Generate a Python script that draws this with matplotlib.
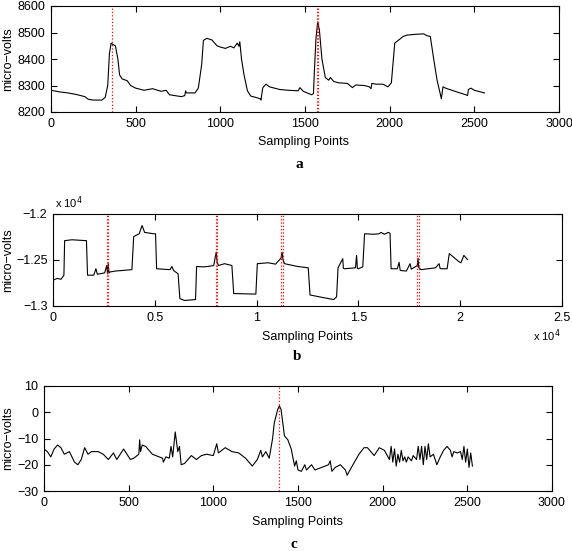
import matplotlib.pyplot as plt
from matplotlib.ticker import FuncFormatter

# panel a: signal (sampling point, micro-volts)
a_x = [0, 50, 100, 150, 200, 220, 250, 300, 320, 335, 345, 355, 365, 380, 395, 405, 420, 450,
       470, 500, 550, 600, 650, 680, 700, 730, 770, 790, 795, 800, 850, 870, 890, 900, 920,
       950, 980, 1000, 1030, 1060, 1080, 1100, 1110, 1115, 1125, 1140, 1160, 1180, 1210, 1235,
       1240, 1250, 1255, 1270, 1290, 1350, 1400, 1460, 1470, 1490, 1520, 1540, 1550, 1555,
       1565, 1575, 1585, 1600, 1620, 1640, 1650, 1670, 1700, 1750, 1780, 1800, 1850, 1880,
       1890, 1895, 1920, 1960, 1990, 2010, 2030, 2050, 2080, 2100, 2150, 2200, 2220, 2240,
       2260, 2280, 2300, 2305, 2315, 2330, 2400, 2450, 2460, 2465, 2480, 2500, 2560]
a_y = [8282, 8276, 8272, 8266, 8258, 8248, 8245, 8245, 8255, 8300, 8420, 8460, 8455, 8450,
       8400, 8340, 8325, 8318, 8300, 8290, 8282, 8288, 8278, 8282, 8265, 8262, 8258, 8262,
       8280, 8272, 8272, 8290, 8380, 8470, 8478, 8472, 8450, 8445, 8440, 8448, 8442, 8460,
       8448, 8465, 8400, 8340, 8280, 8260, 8255, 8250, 8245, 8290, 8295, 8305, 8295, 8285,
       8282, 8280, 8292, 8278, 8270, 8265, 8270, 8350, 8480, 8540, 8510, 8400, 8330, 8320,
       8330, 8315, 8310, 8308, 8292, 8302, 8300, 8295, 8288, 8308, 8305, 8305, 8295, 8310,
       8460, 8470, 8485, 8490, 8493, 8495, 8488, 8485, 8400, 8320, 8265, 8250, 8295, 8290,
       8275, 8265, 8262, 8285, 8290, 8282, 8272]
a_marks = [360, 1572, 1578]

# panel b
b_x = [0, 214, 393, 536, 571, 929, 1643, 1696, 2000, 2107, 2179, 2536, 2640, 2680, 2714,
       2750, 2800, 3071, 3875, 3964, 4232, 4375, 4500, 4946, 5036, 5089, 5750, 5839, 5929,
       6143, 6232, 6464, 7000, 7054, 7357, 7625, 7893, 7960, 8018, 8060, 8125, 8429, 8786,
       8875, 9857, 9964, 10036, 10571, 10929, 11200, 11250, 11300, 11375, 12000, 12536,
       12625, 13071, 13786, 13929, 14000, 14232, 14260, 14321, 14857, 14911, 14950, 15000,
       15214, 15304, 15750, 16018, 16107, 16286, 16464, 16554, 16607, 16911, 17000, 17050,
       17089, 17357, 17536, 17600, 17893, 17930, 17960, 18071, 18429, 18786, 18964, 19010,
       19054, 19357, 19464, 19679, 19946, 20036, 20179, 20357]
b_y = [-12720, -12700, -12710, -12665, -12290, -12280, -12290, -12665, -12665, -12595,
       -12655, -12640, -12560, -12650, -12540, -12640, -12630, -12620, -12605, -12245,
       -12215, -12125, -12200, -12215, -12215, -12595, -12605, -12570, -12615, -12650,
       -12920, -12940, -12930, -12570, -12575, -12570, -12560, -12480, -12415, -12520,
       -12560, -12540, -12560, -12865, -12870, -12870, -12540, -12530, -12545, -12480,
       -12415, -12500, -12540, -12570, -12585, -12880, -12900, -12930, -12900, -12585,
       -12485, -12590, -12595, -12585, -12450, -12590, -12595, -12575, -12215, -12220,
       -12215, -12200, -12220, -12200, -12210, -12595, -12595, -12525, -12610, -12615,
       -12620, -12540, -12600, -12560, -12480, -12580, -12605, -12595, -12585, -12540,
       -12590, -12595, -12595, -12430, -12470, -12520, -12530, -12450, -12495]
b_marks = [2640, 2714, 7982, 8071, 11214, 11286, 17893, 17982]

# panel c
c_x = [0, 20, 40, 60, 80, 100, 120, 150, 180, 200, 220, 240, 260, 280, 320, 350, 380, 410,
       430, 450, 470, 490, 510, 530, 560, 565, 570, 580, 600, 640, 660, 700, 705, 720, 740,
       750, 760, 775, 790, 800, 810, 830, 870, 900, 930, 960, 1000, 1020, 1030, 1070, 1110,
       1150, 1190, 1230, 1260, 1280, 1290, 1310, 1330, 1350, 1360, 1380, 1390, 1400, 1410,
       1420, 1440, 1460, 1480, 1490, 1500, 1520, 1540, 1550, 1580, 1600, 1640, 1680, 1690,
       1700, 1720, 1750, 1780, 1790, 1820, 1860, 1890, 1910, 1950, 1980, 2010, 2040, 2050,
       2060, 2070, 2080, 2090, 2100, 2110, 2120, 2130, 2140, 2150, 2170, 2180, 2200, 2210,
       2220, 2230, 2240, 2250, 2260, 2270, 2280, 2300, 2320, 2340, 2360, 2380, 2400, 2410,
       2420, 2440, 2460, 2470, 2480, 2490, 2500, 2510, 2520, 2530]
c_y = [-14, -15, -17, -14, -12.5, -13.5, -16, -15, -19, -20, -18, -13.5, -16, -15, -15, -16,
       -18, -15.5, -18, -16, -14, -16, -18, -17.5, -16, -10.5, -15, -12.5, -13, -16, -16.5,
       -17.5, -19, -17, -17.5, -13, -17, -7.5, -15, -13, -20, -19.5, -16.5, -18, -16.5, -16,
       -16.5, -12, -15.5, -13.5, -15, -15.5, -17.5, -20.5, -18, -14.5, -17, -15, -17.5, -10,
       -4, 1, 2.5, 1, -4, -9, -10.5, -14, -20.5, -18.5, -22, -22.5, -20, -22, -20, -22, -21,
       -20, -18.5, -22.5, -21, -20, -22, -24, -20.5, -16, -13.5, -13.5, -16.5, -13.5, -14.5,
       -18, -13, -19, -14, -20.5, -16, -19, -14.5, -18.5, -17, -19, -17, -18.5, -16.5, -18,
       -13, -18, -13, -20, -13, -18, -12, -17, -16, -20, -17, -14.5, -13, -14.5, -17, -15,
       -15.5, -15, -18, -13, -19, -14, -21, -15.5, -20.5]
c_marks = [1385]

W, H = 572, 551
fig = plt.figure(figsize=(W / 100, H / 100), dpi=100)
plt.rcParams['font.family'] = ['Liberation Sans', 'DejaVu Sans']


def style(ax):
    ax.tick_params(direction='in', top=True, right=True, labelsize=9, length=4, width=0.8, pad=4)
    for s in ax.spines.values():
        s.set_linewidth(0.8)


def px(l, t, r, b):
    return [l / W, 1 - b / H, (r - l) / W, (b - t) / H]


def labels(xl, yl, ylab, lx, ly, letter):
    fig.text(xl / W, 1 - yl / H, 'Sampling Points', ha='center', va='center', fontsize=9)
    fig.text(8 / W, 1 - ylab / H, 'micro\u2212volts', rotation=90, ha='center', va='center',
             fontsize=9)
    fig.text(lx / W, 1 - ly / H, letter, ha='center', va='center', fontsize=11,
             family='Liberation Serif', weight='bold')


# a
ax = fig.add_axes(px(51, 6, 559, 112))
ax.plot(a_x, a_y, color='black', lw=0.8)
for m in a_marks:
    ax.axvline(m, color='red', ls=':', lw=0.9)
ax.set_xlim(0, 3000)
ax.set_ylim(8200, 8600)
ax.set_yticks([8200, 8300, 8400, 8500, 8600])
style(ax)
labels(304, 142, 59, 299, 164, 'a')

# b
ax = fig.add_axes(px(53, 214, 562, 306))
ax.plot(b_x, b_y, color='black', lw=0.8)
for m in b_marks:
    ax.axvline(m, color='red', ls=':', lw=0.9)
ax.set_xlim(0, 25000)
ax.set_ylim(-13000, -12000)
ax.set_yticks([-13000, -12500, -12000])
ax.set_xticks([0, 5000, 10000, 15000, 20000, 25000])
ax.yaxis.set_major_formatter(FuncFormatter(lambda v, p: f'{v / 1e4:g}'.replace('-', '\u2212')))
ax.xaxis.set_major_formatter(FuncFormatter(lambda v, p: f'{v / 1e4:g}'))
style(ax)
fig.text(55 / W, 1 - 208 / H, 'x 10$^{4}$', ha='left', va='baseline', fontsize=8)
fig.text(533 / W, 1 - 341 / H, 'x 10$^{4}$', ha='left', va='baseline', fontsize=8)
labels(308, 337, 260, 297, 356, 'b')

# c
ax = fig.add_axes(px(44, 386, 552, 491))
ax.plot(c_x, c_y, color='black', lw=0.8)
for m in c_marks:
    ax.axvline(m, color='red', ls=':', lw=0.9)
ax.set_xlim(0, 3000)
ax.set_ylim(-30, 10)
ax.set_yticks([-30, -20, -10, 0, 10])
ax.yaxis.set_major_formatter(FuncFormatter(lambda v, p: f'{v:g}'.replace('-', '\u2212')))
style(ax)
labels(297, 522, 438, 294, 544, 'c')

fig.savefig('out.png', dpi=100)
